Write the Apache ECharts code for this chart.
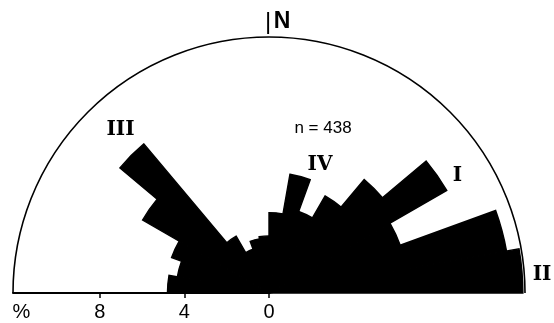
<!DOCTYPE html>
<html>
<head>
<meta charset="utf-8">
<script src="https://cdn.jsdelivr.net/npm/echarts@6/dist/echarts.min.js"></script>
<style>
  html, body { margin: 0; padding: 0; background: #fff; }
  #chart { width: 554px; height: 323px; }
</style>
</head>
<body>
<div id="chart"></div>
<script>
// Azimuth classes of 10°, running from W through N to E
const directionBins = ['270', '280', '290', '300', '310', '320', '330', '340', '350',
                       '0', '10', '20', '30', '40', '50', '60', '70', '80'];
// Frequency of each class, in %
const frequencies = [4.8, 4.4, 4.9, 6.9, 9.2, 3.1, 2.2, 2.6, 2.7,
                     3.8, 5.7, 4.1, 5.3, 7.0, 9.7, 6.6, 11.4, 12.0];
// Scale along the W radius
const scaleTicks = [0, 4, 8];
const unitLabel = '%';
const northLabel = 'N';
const sampleLabel = 'n = 438';
const groupLabels = ['III', 'IV', 'I', 'II'];

const RADIUS_MAX = 12.1;   // outer half circle, %
const UNIT_AT = 11.7;      // where the unit sign sits on the scale

const chart = echarts.init(document.getElementById('chart'), null, { renderer: 'canvas' });

const serifBold = 'bold 20px "DejaVu Serif", serif';

chart.setOption({
  animation: false,
  backgroundColor: '#fff',
  polar: { center: [269, 293], radius: 256 },
  angleAxis: {
    type: 'category',
    data: directionBins,
    startAngle: 180,
    endAngle: 0,
    clockwise: true,
    boundaryGap: true,
    axisLine: { show: true, lineStyle: { color: '#000', width: 1.6 } },
    axisTick: { show: false },
    axisLabel: { show: false },
    splitLine: { show: false },
    splitArea: { show: false }
  },
  radiusAxis: {
    type: 'value',
    min: 0,
    max: RADIUS_MAX,
    axisLine: { show: true, lineStyle: { color: '#000', width: 2 } },
    axisTick: {
      show: true, inside: false, length: 5,
      customValues: scaleTicks,
      lineStyle: { color: '#000', width: 1.5 }
    },
    axisLabel: {
      show: true,
      customValues: scaleTicks.concat([UNIT_AT]),
      formatter: v => (v === UNIT_AT ? unitLabel : String(v)),
      margin: 9,
      color: '#000',
      fontSize: 20,
      fontFamily: '"Liberation Sans", Arial, sans-serif'
    },
    splitLine: { show: false },
    splitArea: { show: false }
  },
  series: [{
    type: 'bar',
    coordinateSystem: 'polar',
    data: frequencies,
    barCategoryGap: '0%',
    barGap: '0%',
    itemStyle: { color: '#000', borderColor: '#000', borderWidth: 1.4, borderJoin: 'miter' },
    silent: true
  }],
  graphic: [
    { type: 'text', x: 268, y: 22, style: { text: '|', font: '24px "Liberation Sans", sans-serif', fill: '#000', textAlign: 'center', textVerticalAlign: 'middle' } },
    { type: 'text', x: 282, y: 21.5, style: { text: northLabel, font: 'bold 23px "Liberation Sans", sans-serif', fill: '#000', textAlign: 'center', textVerticalAlign: 'middle' } },
    { type: 'text', x: 323, y: 128.5, style: { text: sampleLabel, font: '17px "Liberation Sans", sans-serif', fill: '#000', textAlign: 'center', textVerticalAlign: 'middle' } },
    { type: 'text', x: 120.5, y: 129.5, style: { text: groupLabels[0], font: serifBold, fill: '#000', textAlign: 'center', textVerticalAlign: 'middle' } },
    { type: 'text', x: 320, y: 164.5, style: { text: groupLabels[1], font: serifBold, fill: '#000', textAlign: 'center', textVerticalAlign: 'middle' } },
    { type: 'text', x: 457.5, y: 175.5, style: { text: groupLabels[2], font: serifBold, fill: '#000', textAlign: 'center', textVerticalAlign: 'middle' } },
    { type: 'text', x: 542, y: 274.5, style: { text: groupLabels[3], font: serifBold, fill: '#000', textAlign: 'center', textVerticalAlign: 'middle' } }
  ]
});
</script>
</body>
</html>
